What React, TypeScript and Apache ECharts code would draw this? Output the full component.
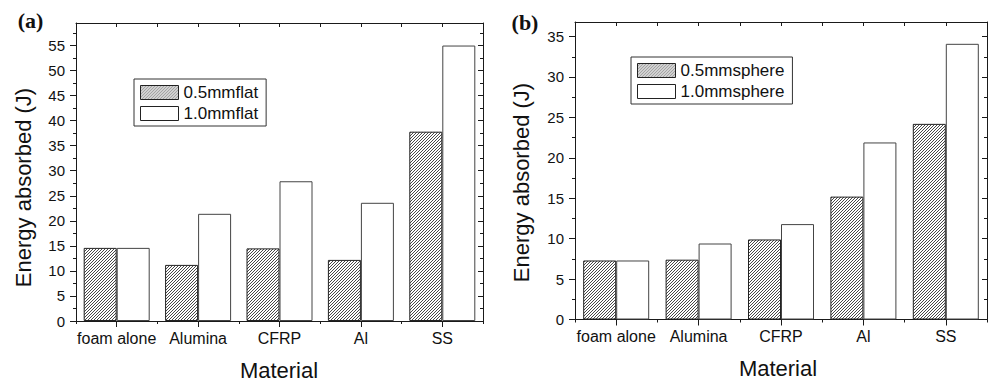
import React, { useEffect, useRef } from 'react';
import * as echarts from 'echarts';

const categories = ['foam alone', 'Alumina', 'CFRP', 'Al', 'SS'];
const flat05 = [14.6, 11.2, 14.5, 12.2, 37.8];
const flat10 = [14.6, 21.4, 27.9, 23.6, 55.0];
const sphere05 = [7.3, 7.4, 9.9, 15.2, 24.2];
const sphere10 = [7.3, 9.4, 11.8, 21.9, 34.1];
const yTicksA = [0, 5, 10, 15, 20, 25, 30, 35, 40, 45, 50, 55];
const yTicksB = [0, 5, 10, 15, 20, 25, 30, 35];
const namesA = ['0.5mmflat', '1.0mmflat'];
const namesB = ['0.5mmsphere', '1.0mmsphere'];
const yTitle = 'Energy absorbed (J)';
const xTitle = 'Material';

const FONT = 'Liberation Sans, Arial, Helvetica, sans-serif';
const AX = '#1a1a1a';

function makeHatch(): HTMLCanvasElement {
  const c = document.createElement('canvas');
  c.width = 6;
  c.height = 6;
  const ctx = c.getContext('2d')!;
  ctx.fillStyle = '#ffffff';
  ctx.fillRect(0, 0, 6, 6);
  ctx.strokeStyle = '#333333';
  ctx.lineWidth = 0.9;
  for (const k of [-6, -3, 0, 3, 6]) {
    ctx.beginPath();
    ctx.moveTo(k, 6);
    ctx.lineTo(k + 6, 0);
    ctx.stroke();
  }
  return c;
}

function axesFor(grid: number, max: number, ticks: number[]) {
  const xAxes = [
    {
      type: 'category', gridIndex: grid, position: 'bottom', data: categories,
      boundaryGap: true,
      axisLine: { show: true, onZero: false, lineStyle: { color: AX, width: 1 } },
      axisTick: { show: true, alignWithLabel: true, inside: false, length: 6, lineStyle: { color: AX } },
      axisLabel: { show: true, margin: 9, fontSize: 16, color: '#111', fontFamily: FONT, interval: 0 },
      splitLine: { show: false },
    },
    {
      type: 'value', gridIndex: grid, position: 'top', min: 0, max: 10, interval: 1,
      axisLine: { show: true, onZero: false, lineStyle: { color: AX, width: 1 } },
      axisTick: { show: true, inside: true, length: 4, lineStyle: { color: AX } },
      axisLabel: { show: false },
      splitLine: { show: false },
    },
    {
      type: 'value', gridIndex: grid, position: 'bottom', min: 0, max: 5, interval: 1,
      axisLine: { show: false, onZero: false },
      axisTick: { show: true, inside: false, length: 3, lineStyle: { color: AX } },
      axisLabel: { show: false },
      splitLine: { show: false },
    },
  ];
  const yAxes = [
    {
      type: 'value', gridIndex: grid, position: 'left', min: 0, max, interval: 5,
      axisLine: { show: true, onZero: false, lineStyle: { color: AX, width: 1 } },
      axisTick: { show: true, inside: false, length: 6, customValues: ticks, lineStyle: { color: AX } },
      minorTick: { show: true, splitNumber: 2, length: 3, lineStyle: { color: AX } },
      axisLabel: { show: true, margin: 11, fontSize: 15, color: '#111', fontFamily: FONT, customValues: ticks },
      splitLine: { show: false },
      minorSplitLine: { show: false },
    },
    {
      type: 'value', gridIndex: grid, position: 'right', min: 0, max, interval: 5,
      axisLine: { show: true, onZero: false, lineStyle: { color: AX, width: 1 } },
      axisTick: { show: true, inside: true, length: 5, customValues: ticks, lineStyle: { color: AX } },
      minorTick: { show: true, splitNumber: 2, length: 3, lineStyle: { color: AX } },
      axisLabel: { show: false },
      splitLine: { show: false },
    },
  ];
  return { xAxes, yAxes };
}

export default function App() {
  const ref = useRef<HTMLDivElement>(null);
  useEffect(() => {
    if (!ref.current) return;
    const chart = echarts.init(ref.current, null, { renderer: 'svg' });
    const hatch = makeHatch();
    const hatchFill: any = { image: hatch, repeat: 'repeat', imageWidth: 6, imageHeight: 6 };
    const A = axesFor(0, 59.5, yTicksA);
    const B = axesFor(1, 36.8, yTicksB);
    const hatchStyle = { color: hatchFill, borderColor: '#222', borderWidth: 1 };
    const whiteStyle = { color: '#ffffff', borderColor: '#444', borderWidth: 1 };
    const barCommon = { type: 'bar', barWidth: 33, barGap: '0%', barCategoryGap: '0%' };
    const textCommon = { fontFamily: FONT, fill: '#111', align: 'center', verticalAlign: 'middle' };
    const legendCommon = {
      orient: 'vertical', itemWidth: 38, itemHeight: 14, itemGap: 4,
      padding: [5, 8, 4, 6], borderColor: '#333', borderWidth: 1, backgroundColor: '#fff',
      icon: 'rect',
      textStyle: { fontSize: 17, color: '#111', fontFamily: FONT },
      itemStyle: { borderColor: '#222', borderWidth: 1 },
      selectedMode: false,
    };
    chart.setOption({
      animation: false,
      backgroundColor: '#ffffff',
      grid: [
        { left: 76, top: 23, width: 407, height: 298, outerBoundsMode: 'none', containLabel: false },
        { left: 575, top: 22, width: 412, height: 297.5, outerBoundsMode: 'none', containLabel: false },
      ],
      xAxis: [...A.xAxes, ...B.xAxes],
      yAxis: [...A.yAxes, ...B.yAxes],
      legend: [
        { ...legendCommon, left: 134, top: 79, data: namesA },
        { ...legendCommon, left: 631, top: 57, data: namesB },
      ],
      series: [
        { ...barCommon, name: namesA[0], xAxisIndex: 0, yAxisIndex: 0, data: flat05, itemStyle: hatchStyle },
        { ...barCommon, name: namesA[1], xAxisIndex: 0, yAxisIndex: 0, data: flat10, itemStyle: whiteStyle },
        { ...barCommon, name: namesB[0], xAxisIndex: 3, yAxisIndex: 2, data: sphere05, itemStyle: hatchStyle },
        { ...barCommon, name: namesB[1], xAxisIndex: 3, yAxisIndex: 2, data: sphere10, itemStyle: whiteStyle },
      ],
      graphic: [
        { type: 'text', x: 30.5, y: 20.5, style: { ...textCommon, text: '(a)', fontFamily: 'Liberation Serif, Times New Roman, serif', fontWeight: 'bold', fontSize: 22 } },
        { type: 'text', x: 525, y: 22, style: { ...textCommon, text: '(b)', fontFamily: 'Liberation Serif, Times New Roman, serif', fontWeight: 'bold', fontSize: 22 } },
        { type: 'text', x: 23.5, y: 187.5, rotation: Math.PI / 2, style: { ...textCommon, text: yTitle, fontSize: 22 } },
        { type: 'text', x: 521.5, y: 182.5, rotation: Math.PI / 2, style: { ...textCommon, text: yTitle, fontSize: 22 } },
        { type: 'text', x: 279, y: 370, style: { ...textCommon, text: xTitle, fontSize: 22 } },
        { type: 'text', x: 778, y: 368.5, style: { ...textCommon, text: xTitle, fontSize: 22 } },
      ],
    });
    return () => chart.dispose();
  }, []);
  return <div ref={ref} style={{ position: 'absolute', left: 0, top: 0, width: 989, height: 384 }} />;
}
